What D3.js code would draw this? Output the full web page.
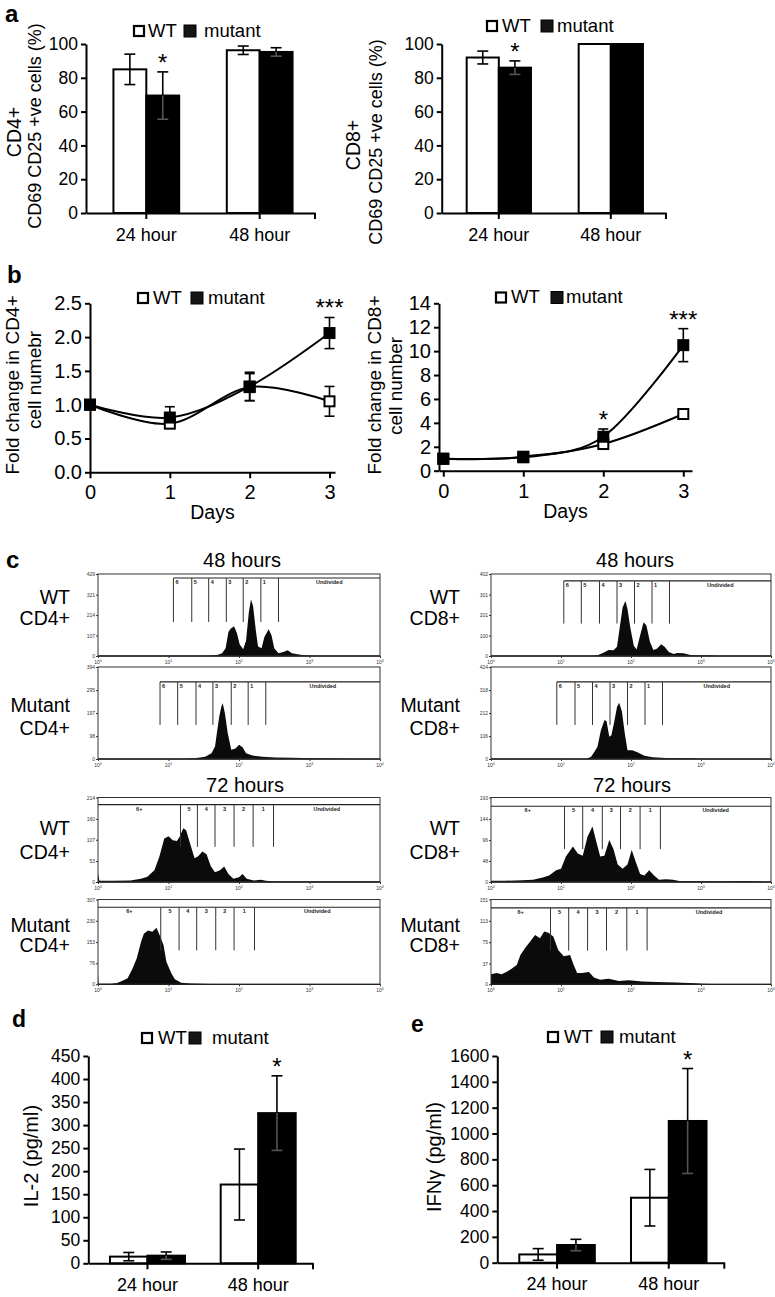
<!DOCTYPE html>
<html><head><meta charset="utf-8">
<script src="https://cdn.jsdelivr.net/npm/d3@7"></script>
<style>
body{margin:0;background:#fff;}
svg{display:block;}
</style></head><body>
<svg id="fig" width="775" height="1297"></svg>
<script>
// ---------------- DATA ----------------
const barCategories = ["24 hour", "48 hour"];
const seriesNames = ["WT", "mutant"];

// panel a : CD69+CD25+ cells (%)
const aTicks = [0, 20, 40, 60, 80, 100];
const aCD4_WT = [85, 96.3];
const aCD4_WT_err = [9, 2.5];
const aCD4_mut = [69.5, 95.3];
const aCD4_mut_err = [14, 2.5];
const aCD8_WT = [92, 100];
const aCD8_WT_err = [3.8, 0];
const aCD8_mut = [86, 100];
const aCD8_mut_err = [4, 0];

// panel b : fold change in cell number
const days = [0, 1, 2, 3];
const bCD4Ticks = [0, 0.5, 1.0, 1.5, 2.0, 2.5];
const bCD4_WT = [1.0, 0.72, 1.26, 1.05];
const bCD4_WT_err = [0.02, 0.05, 0.2, 0.22];
const bCD4_mut = [1.0, 0.81, 1.27, 2.06];
const bCD4_mut_err = [0.02, 0.16, 0.21, 0.23];
const bCD8Ticks = [0, 2, 4, 6, 8, 10, 12, 14];
const bCD8_WT = [1.0, 1.12, 2.23, 4.74];
const bCD8_WT_err = [0.05, 0.1, 0.3, 0.2];
const bCD8_mut = [1.0, 1.17, 2.84, 10.5];
const bCD8_mut_err = [0.05, 0.1, 0.65, 1.38];

// panel c : CFSE histograms  [log10 intensity, count]
const histDecades = [0, 1, 2, 3, 4];
const gateNames48 = ["6", "5", "4", "3", "2", "1", "Undivided"];
const gateNames72 = ["6+", "5", "4", "3", "2", "1", "Undivided"];

const hWT_CD4_48 = [[1.46,0],[1.58,1],[1.69,5],[1.76,15],[1.81,40],[1.85,125],[1.88,143],[1.93,155],[1.97,120],[2.01,60],[2.06,35],[2.10,80],[2.14,230],[2.17,295],[2.20,260],[2.24,130],[2.27,50],[2.32,40],[2.36,100],[2.42,140],[2.46,110],[2.50,40],[2.56,15],[2.64,22],[2.69,30],[2.75,15],[2.85,8],[2.94,3],[3.04,0]];
const hWT_CD4_48_yTicks = [0, 107, 214, 321, 429];
const hWT_CD4_48_gates = [1.07, 1.33, 1.57, 1.82, 2.06, 2.31, 2.56];
const hWT_CD4_48_gateLv = [408, 178];

const hMut_CD4_48 = [[1.23,0],[1.37,3],[1.52,10],[1.61,25],[1.66,54],[1.68,97],[1.72,182],[1.75,225],[1.77,239],[1.80,196],[1.84,111],[1.89,40],[1.95,45],[2.00,61],[2.05,50],[2.10,25],[2.19,15],[2.33,10],[2.52,6],[2.76,5],[3.00,3],[3.43,1],[3.57,0]];
const hMut_CD4_48_yTicks = [0, 98, 197, 295, 394];
const hMut_CD4_48_gates = [0.88, 1.13, 1.39, 1.63, 1.89, 2.13, 2.38];
const hMut_CD4_48_gateLv = [330, 146];

const hWT_CD4_72 = [[0,22],[0.02,3],[0.22,3],[0.46,4],[0.61,8],[0.70,13],[0.80,30],[0.87,64],[0.94,110],[1.00,116],[1.06,106],[1.12,104],[1.16,115],[1.21,136],[1.25,131],[1.32,89],[1.37,60],[1.42,65],[1.48,77],[1.54,70],[1.60,40],[1.66,25],[1.73,30],[1.79,39],[1.85,20],[1.92,8],[2.00,12],[2.05,20],[2.11,8],[2.21,4],[2.31,6],[2.38,3],[2.52,1],[4,1]];
const hWT_CD4_72_yTicks = [0, 53, 107, 160, 214];
const hWT_CD4_72_gates = [1.17, 1.41, 1.66, 1.93, 2.20, 2.49];
const hWT_CD4_72_gateLv = [196, 89];

const hMut_CD4_72 = [[0,30],[0.01,2],[0.18,2],[0.27,5],[0.34,12],[0.42,22],[0.49,57],[0.55,94],[0.61,153],[0.65,183],[0.71,195],[0.77,190],[0.83,205],[0.88,175],[0.93,141],[0.97,82],[1.04,40],[1.09,18],[1.18,6],[1.32,3],[1.61,1],[2.09,1],[4,0]];
const hMut_CD4_72_yTicks = [0, 76, 153, 230, 307];
const hMut_CD4_72_gates = [0.89, 1.15, 1.40, 1.67, 1.93, 2.22];
const hMut_CD4_72_gateLv = [279, 123];

const hWT_CD8_48 = [[1.41,0],[1.51,3],[1.60,15],[1.68,29],[1.75,28],[1.80,45],[1.84,142],[1.88,238],[1.92,270],[1.95,230],[1.99,140],[2.04,50],[2.08,32],[2.13,100],[2.18,166],[2.22,150],[2.27,70],[2.32,30],[2.37,35],[2.43,58],[2.48,45],[2.54,20],[2.61,10],[2.66,15],[2.75,14],[2.85,5],[2.99,2],[3.16,2],[3.21,0]];
const hWT_CD8_48_yTicks = [0, 100, 201, 301, 402];
const hWT_CD8_48_gates = [1.04, 1.29, 1.55, 1.80, 2.05, 2.30, 2.55];
const hWT_CD8_48_gateLv = [368, 159];

const hMut_CD8_48 = [[1.36,0],[1.43,10],[1.48,35],[1.52,55],[1.57,133],[1.62,179],[1.65,175],[1.69,102],[1.72,110],[1.76,170],[1.80,240],[1.83,259],[1.87,220],[1.91,120],[1.95,40],[2.02,40],[2.10,30],[2.19,15],[2.31,8],[2.50,5],[2.69,4],[2.88,3],[2.98,0]];
const hMut_CD8_48_yTicks = [0, 106, 212, 318, 424];
const hMut_CD8_48_gates = [0.94, 1.20, 1.45, 1.70, 1.95, 2.20, 2.45];
const hMut_CD8_48_gateLv = [355, 157];

const hWT_CD8_72 = [[0,3],[0.21,3],[0.45,4],[0.60,5],[0.74,10],[0.83,15],[0.93,27],[1.00,30],[1.07,58],[1.17,81],[1.24,65],[1.31,60],[1.38,104],[1.45,127],[1.50,95],[1.56,58],[1.62,60],[1.69,96],[1.75,75],[1.81,40],[1.88,30],[1.95,40],[2.01,73],[2.07,45],[2.13,18],[2.19,15],[2.26,27],[2.33,15],[2.40,5],[2.50,6],[2.60,5],[2.69,2],[3.31,1],[3.60,2],[4,0]];
const hWT_CD8_72_yTicks = [0, 48, 96, 144, 193];
const hWT_CD8_72_gates = [1.05, 1.31, 1.59, 1.85, 2.13, 2.42];
const hWT_CD8_72_gateLv = [173, 75];

const hMut_CD8_72 = [[0,18],[0.08,20],[0.15,18],[0.22,22],[0.30,28],[0.37,35],[0.42,52],[0.49,65],[0.56,76],[0.63,88],[0.70,82],[0.76,94],[0.82,92],[0.89,85],[0.96,61],[1.04,50],[1.13,52],[1.18,35],[1.23,20],[1.30,20],[1.40,22],[1.47,12],[1.56,8],[1.68,10],[1.83,6],[1.97,7],[2.16,5],[2.35,4],[2.64,3],[2.92,2],[3.02,1],[3.31,0]];
const hMut_CD8_72_yTicks = [0, 37, 75, 113, 151];
const hMut_CD8_72_gates = [0.85, 1.11, 1.38, 1.65, 1.94, 2.23];
const hMut_CD8_72_gateLv = [136, 60];

// panel d : IL-2, panel e : IFNγ
const dTicks = [0, 50, 100, 150, 200, 250, 300, 350, 400, 450];
const dIL2_WT = [14.5, 171];
const dIL2_WT_err = [9, 77];
const dIL2_mut = [16.6, 326];
const dIL2_mut_err = [8, 81];
const eTicks = [0, 200, 400, 600, 800, 1000, 1200, 1400, 1600];
const eIFN_WT = [64, 503];
const eIFN_WT_err = [45, 219];
const eIFN_mut = [137, 1097];
const eIFN_mut_err = [44, 406];

// ---------------- DRAWING ----------------
const FONT = "'Liberation Sans', Arial, Helvetica, sans-serif";
const svg = d3.select("#fig").attr("font-family", FONT);
svg.append("rect").attr("width", 775).attr("height", 1297).attr("fill", "#fff");

function txt(x, y, s, fs, anchor, weight) {
  return svg.append("text").attr("x", x).attr("y", y).text(s)
    .attr("font-size", fs).attr("fill", "#000")
    .attr("text-anchor", anchor || "start").attr("font-weight", weight || "normal");
}
function rtxt(x, y, s, fs) {
  return svg.append("text").attr("transform", `translate(${x},${y}) rotate(-90)`)
    .attr("text-anchor", "middle").attr("font-size", fs).attr("fill", "#000").text(s);
}
function styleAxis(sel, fs) {
  sel.attr("font-family", FONT).attr("font-size", fs);
  sel.select(".domain").attr("stroke", "#000").attr("stroke-width", 2);
  sel.selectAll(".tick line").attr("stroke", "#000").attr("stroke-width", 2);
  sel.selectAll(".tick text").attr("fill", "#000");
}
function legend(p) {
  svg.append("rect").attr("x", p.wx + 1).attr("y", p.cy - 5).attr("width", 10).attr("height", 10)
    .attr("fill", "#fff").attr("stroke", "#000").attr("stroke-width", 2.2);
  txt(p.tx, p.base, seriesNames[0], 18.5);
  svg.append("rect").attr("x", p.mx).attr("y", p.cy - 6).attr("width", 12).attr("height", 12)
    .attr("fill", "#151515").attr("stroke", "#000").attr("stroke-width", 1);
  txt(p.mtx, p.base, seriesNames[1], 18.5);
}

function barPanel(o) {
  const g = svg.append("g");
  const x = d3.scaleBand().domain(barCategories).range([o.x0, o.x1])
    .paddingInner(o.pi).paddingOuter(o.po).align(o.al);
  const xs = d3.scaleBand().domain(seriesNames).range([0, x.bandwidth()]);
  const y = d3.scaleLinear().domain([0, o.ymax]).range([o.y0, o.y1]);
  const ser = [[o.wt, o.wtE, "#fff"], [o.mut, o.mutE, "#000"]];
  ser.forEach(([v, e, f], si) => {
    g.selectAll(null).data(barCategories).join("rect")
      .attr("x", c => x(c) + xs(seriesNames[si])).attr("width", xs.bandwidth())
      .attr("y", (c, i) => y(v[i])).attr("height", (c, i) => y(0) - y(v[i]))
      .attr("fill", f).attr("stroke", "#000").attr("stroke-width", 2);
  });
  ser.forEach(([v, e, f], si) => {
    barCategories.forEach((c, i) => {
      if (!e[i]) return;
      const cx = x(c) + xs(seriesNames[si]) + xs.bandwidth() / 2;
      const hi = y(v[i] + e[i]), mid = y(v[i]), lo = y(v[i] - e[i]);
      const inner = si === 1 ? "#555" : "#000";
      g.append("line").attr("x1", cx).attr("x2", cx).attr("y1", hi).attr("y2", mid).attr("stroke", "#000").attr("stroke-width", 1.6);
      g.append("line").attr("x1", cx).attr("x2", cx).attr("y1", mid).attr("y2", lo).attr("stroke", inner).attr("stroke-width", 1.6);
      g.append("line").attr("x1", cx - 5.5).attr("x2", cx + 5.5).attr("y1", hi).attr("y2", hi).attr("stroke", "#000").attr("stroke-width", 1.6);
      g.append("line").attr("x1", cx - 5.5).attr("x2", cx + 5.5).attr("y1", lo).attr("y2", lo).attr("stroke", inner).attr("stroke-width", 1.6);
    });
  });
  const ya = g.append("g").attr("transform", `translate(${o.x0},0)`)
    .call(d3.axisLeft(y).tickValues(o.ticks).tickFormat(d3.format("d")).tickSize(5).tickPadding(3).tickSizeOuter(0));
  styleAxis(ya, 17.5);
  const xa = g.append("g").attr("transform", `translate(0,${o.y0})`)
    .call(d3.axisBottom(x).tickSize(6).tickPadding(9).tickSizeOuter(0));
  styleAxis(xa, 18);
  g.append("line").attr("x1", o.x1).attr("x2", o.x1).attr("y1", o.y0).attr("y2", o.y0 + 6).attr("stroke", "#000").attr("stroke-width", 2);
  o.stars.forEach(([ci, si, lab]) => {
    const v = si === 0 ? o.wt : o.mut, e = si === 0 ? o.wtE : o.mutE;
    const cx = x(barCategories[ci]) + xs(seriesNames[si]) + xs.bandwidth() / 2;
    txt(cx, y(v[ci] + e[ci]) - 1, lab, 24, "middle");
  });
}

function linePanel(o) {
  const g = svg.append("g");
  const x = d3.scaleLinear().domain([0, 3]).range([o.xd0, o.xd3]);
  const y = d3.scaleLinear().domain([0, o.ymax]).range([o.y0, o.y1]);
  const xAxisScale = d3.scaleLinear().domain([x.invert(o.axisX), x.invert(o.xEnd)]).range([o.axisX, o.xEnd]);
  const xa = g.append("g").attr("transform", `translate(0,${o.y0})`)
    .call(d3.axisBottom(xAxisScale).tickValues(days).tickFormat(d3.format("d")).tickSize(6).tickPadding(7).tickSizeOuter(0));
  styleAxis(xa, 20);
  const ya = g.append("g").attr("transform", `translate(${o.axisX},0)`)
    .call(d3.axisLeft(y).tickValues(o.ticks).tickFormat(o.fmt).tickSize(5).tickPadding(3).tickSizeOuter(0));
  styleAxis(ya, 20);
  const line = d3.line().x((d, i) => x(days[i])).y(d => y(d)).curve(d3.curveCardinal.tension(0));
  const ser = [[o.wt, o.wtE, "#fff"], [o.mut, o.mutE, "#000"]];
  ser.forEach(([v]) => g.append("path").datum(v).attr("d", line).attr("fill", "none").attr("stroke", "#000").attr("stroke-width", 2));
  ser.forEach(([v, e]) => {
    v.forEach((d, i) => {
      const cx = x(days[i]), hi = y(d + e[i]), lo = y(d - e[i]);
      g.append("line").attr("x1", cx).attr("x2", cx).attr("y1", hi).attr("y2", lo).attr("stroke", "#000").attr("stroke-width", 1.6);
      [hi, lo].forEach(yy => g.append("line").attr("x1", cx - 5).attr("x2", cx + 5).attr("y1", yy).attr("y2", yy).attr("stroke", "#000").attr("stroke-width", 1.6));
    });
  });
  ser.forEach(([v, e, f]) => {
    g.selectAll(null).data(v).join("rect")
      .attr("x", (d, i) => x(days[i]) - 5).attr("y", d => y(d) - 5).attr("width", 10).attr("height", 10)
      .attr("fill", f).attr("stroke", "#000").attr("stroke-width", 2);
  });
  o.stars.forEach(([di, lab]) => {
    txt(x(days[di]), y(o.mut[di] + o.mutE[di]) - 1, lab, 24, "middle");
  });
  txt((o.axisX + o.xEnd) / 2, o.y0 + 47, "Days", 19.5, "middle");
}

function histPanel(o) {
  const g = svg.append("g");
  const x = d3.scaleLinear().domain([0, 4]).range([o.x0, o.x1]);
  const y = d3.scaleLinear().domain([0, d3.max(o.yTicks)]).range([o.yb, o.yt]);
  g.append("path").datum(o.data)
    .attr("d", d3.area().x(d => x(d[0])).y0(y(0)).y1(d => y(d[1])))
    .attr("fill", "#0b0b0b");
  g.append("rect").attr("x", o.x0).attr("y", o.yt).attr("width", o.x1 - o.x0).attr("height", o.yb - o.yt)
    .attr("fill", "none").attr("stroke", "#333").attr("stroke-width", 1);
  g.append("line").attr("x1", o.x0).attr("x2", o.x1).attr("y1", o.yb).attr("y2", o.yb).attr("stroke", "#222").attr("stroke-width", 1.3);
  const ya = g.append("g").attr("transform", `translate(${o.x0},0)`)
    .call(d3.axisLeft(y).tickValues(o.yTicks).tickSize(2).tickPadding(1).tickSizeOuter(0).tickFormat(d3.format("d")));
  ya.select(".domain").remove();
  ya.attr("font-family", FONT).attr("font-size", 5);
  ya.selectAll("line").attr("stroke", "#333");
  ya.selectAll("text").attr("fill", "#333");
  const xa = g.append("g").attr("transform", `translate(0,${o.yb})`)
    .call(d3.axisBottom(x).tickValues(histDecades).tickSize(2).tickFormat(""));
  xa.select(".domain").remove();
  xa.selectAll("line").attr("stroke", "#333");
  g.selectAll(null).data(histDecades).join("text")
    .attr("x", d => x(d)).attr("y", o.yb + 8).attr("text-anchor", "middle")
    .attr("font-size", 5).attr("fill", "#333")
    .each(function (d) {
      const t = d3.select(this);
      t.append("tspan").text("10");
      t.append("tspan").attr("dy", -2).attr("font-size", 3.5).text(d);
    });
  const gx = o.is72 ? [0, ...o.gates, 4] : [...o.gates, 4];
  const yBar = y(o.gateLv[0]), yLow = y(o.gateLv[1]);
  g.append("line").attr("x1", x(gx[0])).attr("x2", x(4)).attr("y1", yBar).attr("y2", yBar).attr("stroke", "#222").attr("stroke-width", 1.2);
  o.gates.forEach(t => g.append("line").attr("x1", x(t)).attr("x2", x(t)).attr("y1", yBar).attr("y2", yLow).attr("stroke", "#333").attr("stroke-width", 1));
  const names = o.is72 ? gateNames72 : gateNames48;
  names.forEach((nm, i) => {
    const a = x(gx[i]), b = x(gx[i + 1]);
    const center = o.is72 || nm === "Undivided";
    g.append("text").attr("x", center ? (a + b) / 2 : a + 2).attr("y", yBar + 6)
      .attr("text-anchor", center ? "middle" : "start").attr("font-size", 5.5).attr("font-weight", "bold").attr("fill", "#222").text(nm);
  });
}

// ---- panel a ----
txt(5, 22, "a", 24, "start", "bold");
barPanel({x0: 86, x1: 315, y0: 213, y1: 44, ymax: 100, ticks: aTicks, pi: 0.42, po: 0.22, al: 0.55,
  wt: aCD4_WT, wtE: aCD4_WT_err, mut: aCD4_mut, mutE: aCD4_mut_err, stars: [[0, 1, "*"]]});
barPanel({x0: 441.7, x1: 666, y0: 213, y1: 44, ymax: 100, ticks: aTicks, pi: 0.426, po: 0.2145, al: 0.52,
  wt: aCD8_WT, wtE: aCD8_WT_err, mut: aCD8_mut, mutE: aCD8_mut_err, stars: [[0, 1, "*"]]});
legend({wx: 133, tx: 148, mx: 184, mtx: 204, cy: 31, base: 36.5});
legend({wx: 486, tx: 502, mx: 541, mtx: 557, cy: 26, base: 31.5});
rtxt(21, 132, "CD4+", 19.5);
rtxt(41, 126, "CD69 CD25 +ve cells (%)", 18);
rtxt(360, 145, "CD8+", 19.5);
rtxt(382, 142, "CD69 CD25 +ve cells (%)", 18);

// ---- panel b ----
txt(7, 283, "b", 24, "start", "bold");
linePanel({axisX: 90, xEnd: 335, xd0: 90, xd3: 329.5, y0: 472.3, y1: 303.3, ymax: 2.5, ticks: bCD4Ticks,
  fmt: d3.format(".1f"), wt: bCD4_WT, wtE: bCD4_WT_err, mut: bCD4_mut, mutE: bCD4_mut_err, stars: [[3, "***"]]});
linePanel({axisX: 439, xEnd: 692, xd0: 443.3, xd3: 683.3, y0: 470.7, y1: 303.3, ymax: 14, ticks: bCD8Ticks,
  fmt: d3.format("d"), wt: bCD8_WT, wtE: bCD8_WT_err, mut: bCD8_mut, mutE: bCD8_mut_err, stars: [[2, "*"], [3, "***"]]});
legend({wx: 137, tx: 153, mx: 191, mtx: 208, cy: 298, base: 303.5});
legend({wx: 495, tx: 511, mx: 551, mtx: 566, cy: 297.5, base: 303});
rtxt(19, 385, "Fold change in CD4+", 19);
rtxt(41, 380, "cell numebr", 19);
rtxt(381, 385, "Fold change in CD8+", 19);
rtxt(402, 386, "cell number", 19);

// ---- panel c ----
txt(6, 568, "c", 24, "start", "bold");
txt(242, 567, "48 hours", 20, "middle");
txt(635, 567, "48 hours", 20, "middle");
txt(245, 792, "72 hours", 20, "middle");
txt(632, 792, "72 hours", 20, "middle");
const rowLab = [["WT", "CD4+", "CD8+", 604, 625], ["Mutant", "CD4+", "CD8+", 712, 735],
                ["WT", "CD4+", "CD8+", 835, 858.5], ["Mutant", "CD4+", "CD8+", 932, 952]];
rowLab.forEach(([a, l, r, y1, y2]) => {
  txt(70, y1, a, 19.5, "end"); txt(70, y2, l, 19.5, "end");
  txt(460, y1, a, 19.5, "end"); txt(460, y2, r, 19.5, "end");
});
const L = [98, 380], R = [491, 771];
const rows = [[574, 656], [667, 759], [797.5, 882], [899.5, 984.3]];
histPanel({x0: L[0], x1: L[1], yt: rows[0][0], yb: rows[0][1], data: hWT_CD4_48, yTicks: hWT_CD4_48_yTicks, gates: hWT_CD4_48_gates, gateLv: hWT_CD4_48_gateLv, is72: false});
histPanel({x0: L[0], x1: L[1], yt: rows[1][0], yb: rows[1][1], data: hMut_CD4_48, yTicks: hMut_CD4_48_yTicks, gates: hMut_CD4_48_gates, gateLv: hMut_CD4_48_gateLv, is72: false});
histPanel({x0: L[0], x1: L[1], yt: rows[2][0], yb: rows[2][1], data: hWT_CD4_72, yTicks: hWT_CD4_72_yTicks, gates: hWT_CD4_72_gates, gateLv: hWT_CD4_72_gateLv, is72: true});
histPanel({x0: L[0], x1: L[1], yt: rows[3][0], yb: rows[3][1], data: hMut_CD4_72, yTicks: hMut_CD4_72_yTicks, gates: hMut_CD4_72_gates, gateLv: hMut_CD4_72_gateLv, is72: true});
histPanel({x0: R[0], x1: R[1], yt: rows[0][0], yb: rows[0][1], data: hWT_CD8_48, yTicks: hWT_CD8_48_yTicks, gates: hWT_CD8_48_gates, gateLv: hWT_CD8_48_gateLv, is72: false});
histPanel({x0: R[0], x1: R[1], yt: rows[1][0], yb: rows[1][1], data: hMut_CD8_48, yTicks: hMut_CD8_48_yTicks, gates: hMut_CD8_48_gates, gateLv: hMut_CD8_48_gateLv, is72: false});
histPanel({x0: R[0], x1: R[1], yt: rows[2][0], yb: rows[2][1], data: hWT_CD8_72, yTicks: hWT_CD8_72_yTicks, gates: hWT_CD8_72_gates, gateLv: hWT_CD8_72_gateLv, is72: true});
histPanel({x0: R[0], x1: R[1], yt: rows[3][0], yb: rows[3][1], data: hMut_CD8_72, yTicks: hMut_CD8_72_yTicks, gates: hMut_CD8_72_gates, gateLv: hMut_CD8_72_gateLv, is72: true});

// ---- panel d ----
txt(12, 1027, "d", 23, "start", "bold");
barPanel({x0: 88.3, x1: 313, y0: 1263.3, y1: 1056, ymax: 450, ticks: dTicks, pi: 0.3225, po: 0.176, al: 0.556,
  wt: dIL2_WT, wtE: dIL2_WT_err, mut: dIL2_mut, mutE: dIL2_mut_err, stars: [[1, 1, "*"]]});
legend({wx: 141, tx: 158, mx: 189, mtx: 212, cy: 1038, base: 1044});
rtxt(37.5, 1156, "IL-2 (pg/ml)", 20);

// ---- panel e ----
txt(411, 1032, "e", 23, "start", "bold");
barPanel({x0: 497.3, x1: 724.3, y0: 1262.7, y1: 1056, ymax: 1600, ticks: eTicks, pi: 0.324, po: 0.178, al: 0.553,
  wt: eIFN_WT, wtE: eIFN_WT_err, mut: eIFN_mut, mutE: eIFN_mut_err, stars: [[1, 1, "*"]]});
legend({wx: 547, tx: 564, mx: 601, mtx: 619, cy: 1037, base: 1043});
rtxt(441, 1157, "IFNγ (pg/ml)", 20);
</script></body></html>
